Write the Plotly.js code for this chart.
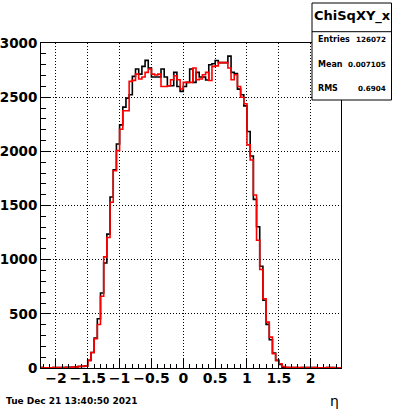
<!DOCTYPE html>
<html>
<head>
<meta charset="utf-8">
<script src="https://cdn.plot.ly/plotly-3.0.1.min.js"></script>
<style>
html,body{margin:0;padding:0;background:#fff;}
#plot{width:400px;height:409px;}
</style>
</head>
<body>
<div id="plot"></div>
<script>
// Histogram definition: bins of width 0.05 starting at -2.25
const binStart = -2.25;
const binWidth = 0.05;

// Black histogram counts per bin
const blackCounts = [
  4, 3, 2, 3, 4, 4, 5, 5, 6, 6, 7, 9,
  14, 15, 18, 70, 143, 276, 455, 692, 970, 1236, 1579, 1829, 2069, 2245,
  2409, 2492, 2523, 2693, 2761, 2714, 2785, 2841, 2770, 2687, 2687, 2687,
  2761, 2687, 2606, 2606, 2730, 2600, 2554, 2600, 2637, 2761, 2637, 2730,
  2687, 2687, 2660, 2800, 2810, 2840, 2820, 2820, 2820, 2880, 2730, 2720,
  2575, 2523, 2420, 2184, 1958, 1557, 1304, 940, 625, 403, 261, 137, 70,
  33, 8, 5,
  4, 4, 4, 3, 4, 4, 4, 4, 4, 3, 2, 3, 4, 4, 4, 3, 3
];

// Red histogram counts per bin
const redCounts = [
  4, 3, 2, 3, 4, 4, 4, 5, 5, 6, 8, 9,
  15, 16, 18, 70, 143, 270, 402, 662, 1026, 1205, 1530, 1822, 2007, 2205,
  2375, 2375, 2647, 2656, 2714, 2668, 2687, 2730, 2761, 2714, 2705, 2714,
  2600, 2600, 2606, 2662, 2699, 2662, 2576, 2637, 2637, 2637, 2770, 2662,
  2668, 2708, 2730, 2655, 2785, 2790, 2820, 2820, 2820, 2770, 2662, 2708,
  2600, 2500, 2440, 2060, 1921, 1597, 1180, 909, 640, 424, 285, 131, 70,
  39, 14, 6,
  5, 4, 4, 4, 4, 4, 4, 4, 4, 3, 1, 2, 4, 4, 3, 1, 1
];

const xTickVals = [-2, -1.5, -1, -0.5, 0, 0.5, 1, 1.5, 2];
const yTickVals = [0, 500, 1000, 1500, 2000, 2500, 3000];

const statsTitle = "ChiSqXY_x";
const statsLabels = ["Entries", "Mean", "RMS"];
const statsValues = ["126072", "0.007105", "0.6904"];
const dateText = "Tue Dec 21 13:40:50 2021";
const xTitle = "η";

function stepXY(counts) {
  const x = [], y = [];
  for (let i = 0; i < counts.length; i++) {
    x.push(binStart + i * binWidth);
    y.push(counts[i]);
  }
  x.push(binStart + counts.length * binWidth);
  y.push(counts[counts.length - 1]);
  return {x, y};
}

const b = stepXY(blackCounts);
const r = stepXY(redCounts);

const font = "DejaVu Sans, Verdana, sans-serif";

const traces = [
  {x: b.x, y: b.y, type: 'scatter', mode: 'lines', line: {shape: 'hv', color: '#000', width: 1.6}, hoverinfo: 'skip'},
  {x: r.x, y: r.y, type: 'scatter', mode: 'lines', line: {shape: 'hv', color: '#ff0000', width: 1.6}, hoverinfo: 'skip'}
];

// paper coordinates helpers for plot area (l=41, r=59, t=43, b=41)
const L = 41, R = 341, T = 43, B = 368;
const px = v => (v - L) / (R - L);
const py = v => (B - v) / (B - T);

const annotations = [
  {text: statsTitle, x: px(352), y: py(16), xref: 'paper', yref: 'paper', showarrow: false,
   xanchor: 'center', yanchor: 'middle', font: {family: font, size: 13, weight: 'bold', color: '#000'}},
  {text: dateText, x: px(4), y: py(401), xref: 'paper', yref: 'paper', showarrow: false,
   xanchor: 'left', yanchor: 'middle', font: {family: font, size: 9, weight: 'bold', color: '#000'}},
  {text: xTitle, x: px(334), y: py(401), xref: 'paper', yref: 'paper', showarrow: false,
   xanchor: 'center', yanchor: 'middle', font: {family: font, size: 14, color: '#000'}}
];
const rowY = [39.5, 64.5, 89];
statsLabels.forEach((lab, i) => {
  annotations.push({text: lab, x: px(316), y: py(rowY[i]), xref: 'paper', yref: 'paper', showarrow: false,
    xanchor: 'left', yanchor: 'middle', font: {family: font, size: 8, weight: 'bold', color: '#000'}});
  annotations.push({text: statsValues[i], x: px(388), y: py(rowY[i]), xref: 'paper', yref: 'paper', showarrow: false,
    xanchor: 'right', yanchor: 'middle', font: {family: font, size: 7.2, weight: 'bold', color: '#000'}});
});

const shapes = [
  {type: 'rect', xref: 'paper', yref: 'paper', x0: px(312), x1: px(391.5), y0: py(100), y1: py(3),
   line: {color: '#000', width: 1}, fillcolor: '#fff', layer: 'above'},
  {type: 'line', xref: 'paper', yref: 'paper', x0: px(312), x1: px(391.5), y0: py(31.7), y1: py(31.7),
   line: {color: '#000', width: 1}, layer: 'above'}
];

const layout = {
  width: 400, height: 409,
  margin: {l: L, r: 400 - R, t: T, b: 409 - B, pad: 0},
  paper_bgcolor: '#fff', plot_bgcolor: '#fff',
  showlegend: false,
  xaxis: {
    range: [-2.234, 2.476], tickvals: xTickVals, ticks: 'inside', ticklen: 9, tickwidth: 1, tickcolor: '#000',
    showline: true, mirror: true, linecolor: '#000', linewidth: 1,
    showgrid: true, gridcolor: '#000', gridwidth: 1, griddash: '1px,2px', zeroline: false,
    minor: {dtick: 0.1, tick0: 0, ticks: 'inside', ticklen: 4.5, tickcolor: '#000', tickwidth: 1, showgrid: false},
    ticklabelstandoff: -3,
    tickfont: {family: font, size: 14, weight: 'bold', color: '#000'}
  },
  yaxis: {
    range: [0, 3001], tickvals: yTickVals, tickformat: 'd', ticks: 'inside', ticklen: 9, tickwidth: 1, tickcolor: '#000',
    showline: true, mirror: true, linecolor: '#000', linewidth: 1,
    showgrid: true, gridcolor: '#000', gridwidth: 1, griddash: '1px,2px', zeroline: false,
    minor: {dtick: 100, tick0: 0, ticks: 'inside', ticklen: 4.5, tickcolor: '#000', tickwidth: 1, showgrid: false},
    tickfont: {family: font, size: 13.5, weight: 'bold', color: '#000'}
  },
  annotations: annotations,
  shapes: shapes
};

Plotly.newPlot('plot', traces, layout, {staticPlot: true, displayModeBar: false});
</script>
</body>
</html>
